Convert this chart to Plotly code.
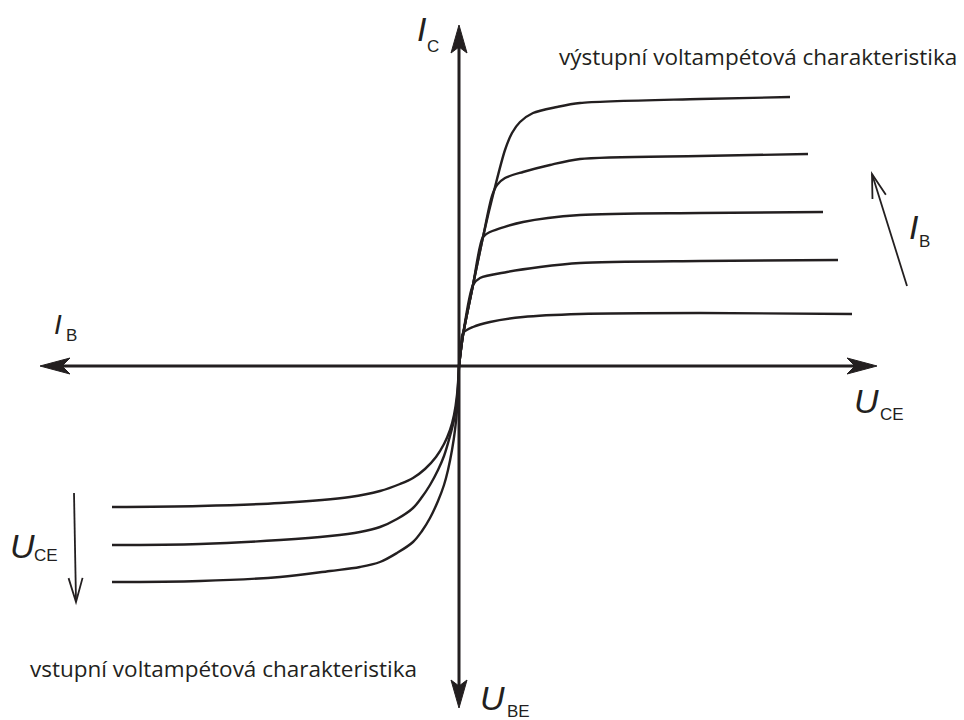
import math
import plotly.graph_objects as go

# Diagram units: 1 unit = 1 px, origin where the axes cross.
X_MIN, X_MAX = -459, 505
Y_MIN, Y_MAX = -354, 366

INK = "#231f20"

# Output characteristics I_C(U_CE), one curve per base current I_B (lowest first)
out_u = [
    [0, 2, 4, 14, 31, 64, 121, 241, 393],
    [0, 4, 14, 21, 48, 81, 121, 241, 379],
    [0, 4, 14, 24, 31, 64, 121, 241, 364],
    [0, 4, 14, 24, 33, 38, 46, 64, 91, 121, 241, 349],
    [0, 4, 14, 24, 36, 46, 53, 61, 74, 98, 121, 241, 331],
]
out_i = [
    [0, 20, 33, 39, 44, 49, 52, 53, 52],
    [0, 31, 81, 88, 94, 99, 103, 105, 106],
    [0, 31, 81, 129, 134, 144, 151, 153, 154],
    [0, 31, 81, 129, 170, 181, 188, 194, 201, 207, 210, 212],
    [0, 31, 81, 129, 179, 216, 233, 244, 253, 259, 263, 267, 269],
]

# Input characteristics I_B(U_BE), one curve per U_CE (both negative in this quadrant)
in_u = [
    [-347, -259, -179, -109, -79, -59, -46, -34, -23, -15, -9, -5, -2, 0],
    [-347, -259, -179, -129, -99, -79, -62, -46, -37, -29, -21, -15, -9, -5, -2, 0],
    [-347, -259, -179, -129, -99, -79, -62, -46, -37, -29, -21, -15, -11, -7, -4, -2, 0],
]
in_i = [
    [-141, -140, -137, -131, -125, -118, -112, -103, -91, -78, -64, -49, -29, 0],
    [-179, -178, -174, -170, -166, -161, -153, -142, -131, -119, -104, -90, -70, -54, -34, 0],
    [-216, -215, -211, -205, -201, -196, -187, -176, -165, -152, -135, -119, -104, -84, -64, -44, 0],
]

title_out = "výstupní voltampétová charakteristika"
title_in = "vstupní voltampétová charakteristika"

fig = go.Figure()

for u, i in zip(out_u, out_i):
    fig.add_trace(go.Scatter(x=u, y=i, mode="lines",
                             line=dict(color=INK, width=2.4, shape="spline", smoothing=0.8),
                             hoverinfo="skip", showlegend=False))
for u, i in zip(in_u, in_i):
    fig.add_trace(go.Scatter(x=u, y=i, mode="lines",
                             line=dict(color=INK, width=2.4, shape="spline", smoothing=1.0),
                             hoverinfo="skip", showlegend=False))

shapes = []


def barbed_head(tx, ty, dx, dy, length=30, half=8, notch=22):
    """Filled barbed arrowhead with its tip at (tx, ty), pointing along (dx, dy)."""
    n = math.hypot(dx, dy)
    ux, uy = dx / n, dy / n
    px, py = -uy, ux
    bx, by = tx - ux * length, ty - uy * length
    nx, ny = tx - ux * notch, ty - uy * notch
    pts = [(tx, ty), (bx + px * half, by + py * half), (nx, ny), (bx - px * half, by - py * half)]
    path = "M " + " L ".join(f"{x:.2f},{y:.2f}" for x, y in pts) + " Z"
    return dict(type="path", path=path, xref="x", yref="y",
                fillcolor=INK, line=dict(color=INK, width=1))


def open_head(tx, ty, dx, dy, length=24, half=7):
    n = math.hypot(dx, dy)
    ux, uy = dx / n, dy / n
    px, py = -uy, ux
    bx, by = tx - ux * length, ty - uy * length
    path = (f"M {bx + px * half:.2f},{by + py * half:.2f} L {tx:.2f},{ty:.2f} "
            f"L {bx - px * half:.2f},{by - py * half:.2f}")
    return dict(type="path", path=path, xref="x", yref="y",
                line=dict(color=INK, width=1.8))


def line(x0, y0, x1, y1, w):
    return dict(type="line", x0=x0, y0=y0, x1=x1, y1=y1, xref="x", yref="y",
                line=dict(color=INK, width=w))


# Main axes with arrowheads at both ends
h_left, h_right = -419, 418
v_top, v_bot = 341, -342
shapes.append(line(h_left + 20, 0, h_right - 20, 0, 3))
shapes.append(line(0, v_top - 20, 0, v_bot + 20, 3))
shapes.append(barbed_head(h_left, 0, -1, 0))
shapes.append(barbed_head(h_right, 0, 1, 0))
shapes.append(barbed_head(0, v_top, 0, 1, length=28))
shapes.append(barbed_head(0, v_bot, 0, -1, length=28))

# Direction of growing I_B (output) and growing U_CE (input)
shapes.append(line(448, 80, 413, 192, 1.8))
shapes.append(open_head(413, 192, -35, 112))
shapes.append(line(-385, -127, -383, -235, 1.8))
shapes.append(open_head(-383, -236, 2, -109))

ann = []


def label(x, y, text, size, italic=False):
    ann.append(dict(x=x, y=y, xref="x", yref="y", text=text, showarrow=False,
                    xanchor="center", yanchor="middle",
                    font=dict(family="Liberation Sans", size=size, color=INK,
                              style="italic" if italic else "normal")))


label(-37, 337, "I", 34, italic=True)
label(-26, 320, "C", 17)
label(407, -35, "U", 34, italic=True)
label(433, -48, "CE", 17)
label(455, 139, "I", 34, italic=True)
label(465, 125, "B", 17)
label(-401, 42, "I", 28, italic=True)
label(-388, 31, "B", 17)
label(-437, -180, "U", 34, italic=True)
label(-413, -189, "CE", 17)
label(33, -332, "U", 34, italic=True)
label(59, -345, "BE", 17)

for x, y, t in [(98, 310, title_out), (-431, -302, title_in)]:
    ann.append(dict(x=x, y=y, xref="x", yref="y", text=t, showarrow=False,
                    xanchor="left", yanchor="middle",
                    font=dict(family="Open Sans", size=22.5, color=INK)))

fig.update_layout(
    width=964, height=720, autosize=False,
    margin=dict(l=0, r=0, t=0, b=0),
    paper_bgcolor="white", plot_bgcolor="white",
    xaxis=dict(range=[X_MIN, X_MAX], visible=False, fixedrange=True),
    yaxis=dict(range=[Y_MIN, Y_MAX], visible=False, fixedrange=True),
    shapes=shapes, annotations=ann, showlegend=False,
)

fig.write_html("out.html")
